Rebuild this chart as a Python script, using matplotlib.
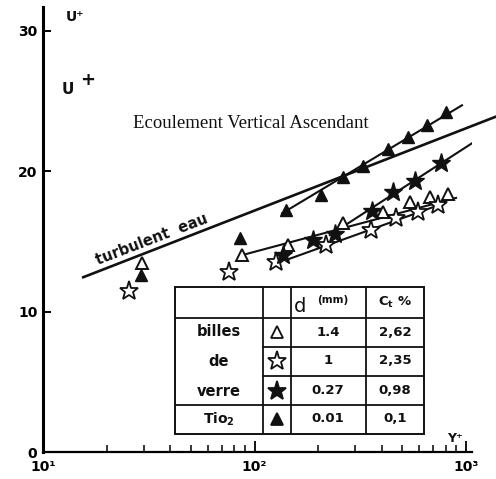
import numpy as np
import matplotlib.pyplot as plt
from matplotlib.patches import Rectangle

# values (Y+ on log axis, U+ linear)
tri_open_y = [29.4, 87.3, 144, 262, 405, 543, 676, 822]          # d = 1.4 mm
tri_open_u = [13.45, 14.0, 14.75, 16.3, 17.1, 17.8, 18.2, 18.4]
star_open_y = [25.5, 75.7, 126.5, 218, 356, 467, 593, 738]       # d = 1 mm
star_open_u = [11.5, 12.8, 13.5, 14.75, 15.8, 16.7, 17.1, 17.6]
star_fill_y = [136, 189, 240, 360, 452, 574, 762]                # d = 0.27 mm
star_fill_u = [14.0, 15.1, 15.5, 17.2, 18.5, 19.3, 20.6]
tri_fill_y = [29.0, 85.3, 141, 206, 261, 326, 427, 532, 655, 804]  # TiO2
tri_fill_u = [12.6, 15.25, 17.25, 18.3, 19.6, 20.4, 21.6, 22.45, 23.3, 24.2]

# straight lines drawn on the figure (end points)
turb_y, turb_u = [15.5, 1390], [12.45, 23.9]
fit_tio2_y, fit_tio2_u = [135, 957], [17.0, 24.7]
fit_sf_y, fit_sf_u = [227, 1203], [15.45, 22.5]
fit_to_y, fit_to_u = [91.2, 897], [14.1, 18.1]
fit_so_y, fit_so_u = [145.5, 796], [13.75, 17.75]

# table contents
tab_rows = ['billes', 'de', 'verre']
tab_d = ['1.4', '1', '0.27', '0.01']
tab_ct = ['2,62', '2,35', '0,98', '0,1']

W, H = 496, 479
fig = plt.figure(figsize=(W / 100, H / 100), dpi=100)
ax = fig.add_axes([43 / W, 27 / H, 429 / W, 445 / H])
ax.set_xscale('log')
ax.set_xlim(10, 1067)
ax.set_ylim(0, 31.7)

bold = dict(family='DejaVu Sans', weight='bold', color='#111111')

# lines
ax.plot(turb_y, turb_u, '-', color='#111111', lw=1.9, clip_on=False)
for xs, us in [(fit_tio2_y, fit_tio2_u), (fit_sf_y, fit_sf_u),
               (fit_to_y, fit_to_u), (fit_so_y, fit_so_u)]:
    ax.plot(xs, us, '-', color='#111111', lw=1.5)

# markers
ax.plot(tri_open_y, tri_open_u, '^', ms=9, mfc='white', mec='#111111', mew=1.4, ls='none', zorder=4)
ax.plot(star_open_y, star_open_u, '*', ms=14, mfc='white', mec='#111111', mew=1.3, ls='none', zorder=4)
ax.plot(star_fill_y, star_fill_u, '*', ms=14, mfc='#111111', mec='#111111', mew=1.0, ls='none', zorder=5)
ax.plot(tri_fill_y, tri_fill_u, '^', ms=9, mfc='#111111', mec='#111111', mew=1.0, ls='none', zorder=5)

# axes styling
for s in ['top', 'right']:
    ax.spines[s].set_visible(False)
ax.spines['left'].set_linewidth(2.2)
ax.spines['bottom'].set_linewidth(1.6)
ax.set_yticks([0, 10, 20, 30])
ax.set_yticklabels(['0', '10', '20', '30'], fontsize=10, fontweight='bold')
ax.tick_params(axis='y', direction='in', length=6, width=1.4, pad=4)
ax.set_xticks([10, 100, 1000])
ax.set_xticklabels(['10\u00b9', '10\u00b2', '10\u00b3'], fontsize=10, fontweight='bold')
ax.tick_params(axis='x', which='major', direction='in', length=8, width=1.3, pad=6)
ax.tick_params(axis='x', which='minor', direction='in', length=5, width=1.1)

# labels
fig.text(66 / W, 1 - 17 / H, 'U\u207a', fontsize=10, va='center', **bold)
fig.text(62 / W, 1 - 90 / H, 'U', fontsize=11, va='center', **bold)
fig.text(80 / W, 1 - 80 / H, '+', fontsize=13, va='center', **bold)
fig.text(447 / W, 1 - 438 / H, 'Y\u207a', fontsize=9, va='center', **bold)
fig.text(251 / W, 1 - 123 / H, 'Ecoulement Vertical Ascendant', fontsize=13.5,
         family='Liberation Serif', ha='center', va='center', color='#111111')
fig.text(152 / W, 1 - 240 / H, 'turbulent  eau', fontsize=10.5, rotation=21,
         ha='center', va='center', rotation_mode='anchor', **bold)

# table drawn in axes fraction
def fx(px):
    return (px - 43) / 429

def fy(py):
    return (452 - py) / 445

xl, xc1, xc2, xc3, xr = 175, 263, 291, 366, 424
yr = [287, 318, 347, 376, 405, 434]
tkw = dict(transform=ax.transAxes, color='#111111', lw=1.3, solid_capstyle='projecting', zorder=6)
ax.add_patch(Rectangle((fx(xl), fy(yr[-1])), fx(xr) - fx(xl), fy(yr[0]) - fy(yr[-1]),
                       transform=ax.transAxes, fc='white', ec='#111111', lw=1.4, zorder=6))
for xv in [xc1, xc2, xc3]:
    ax.plot([fx(xv), fx(xv)], [fy(yr[0]), fy(yr[-1])], **tkw)
for i, yv in enumerate(yr[1:-1]):
    x0 = xl if i in (0, 3) else xc1
    ax.plot([fx(x0), fx(xr)], [fy(yv), fy(yv)], **tkw)

txt = dict(transform=ax.transAxes, ha='center', va='center', zorder=7)
ax.text(fx(300), fy(306), 'd', fontsize=14, family='DejaVu Sans', color='#111111', **txt)
ax.text(fx(333), fy(300), '(mm)', fontsize=7.5, **txt, **bold)
ax.text(fx(395), fy(302), 'C$_{\\mathbf{t}}$ %', fontsize=9.5, **txt, **bold)
rows_y = [332, 361, 391, 419]
for lab, yv in zip(tab_rows, rows_y[:3]):
    ax.text(fx(219), fy(yv), lab, fontsize=10.5, **txt, **bold)
ax.text(fx(219), fy(419), 'Tio$_{\\mathbf{2}}$', fontsize=10, **txt, **bold)
for dv, cv, yv in zip(tab_d, tab_ct, rows_y):
    ax.text(fx(328), fy(yv), dv, fontsize=9.5, **txt, **bold)
    ax.text(fx(395), fy(yv), cv, fontsize=9.5, **txt, **bold)
mk = [('^', 'white', 9), ('*', 'white', 14), ('*', '#111111', 14), ('^', '#111111', 9)]
for (m, fc, ms), yv in zip(mk, rows_y):
    ax.plot([fx(277)], [fy(yv)], m, ms=ms, mfc=fc, mec='#111111', mew=1.3,
            transform=ax.transAxes, zorder=8, clip_on=False)

fig.savefig('out.png', dpi=100)
